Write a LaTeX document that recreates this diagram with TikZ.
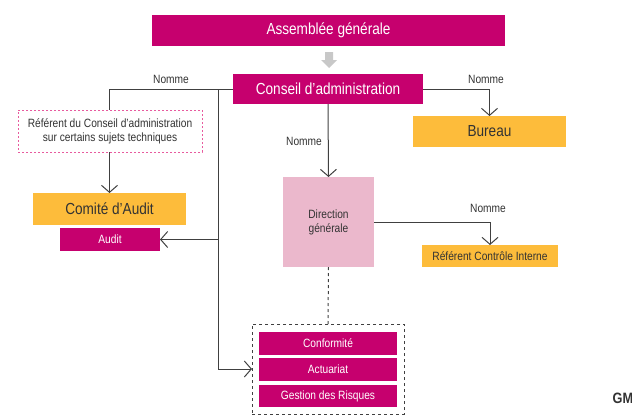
\documentclass[tikz,border=0pt]{standalone}
\usepackage{fontspec}
\setmainfont{Liberation Sans}[FakeStretch=0.85]
\usetikzlibrary{arrows.meta,backgrounds}
\definecolor{mag}{HTML}{C6006E}
\definecolor{orng}{HTML}{FDBC3B}
\definecolor{lpink}{HTML}{EBB8CC}
\definecolor{dpink}{HTML}{E85A9E}
\definecolor{ink}{HTML}{333333}
\definecolor{lnc}{HTML}{404040}
\definecolor{garr}{HTML}{C8C8C8}
\tikzset{
  box/.style={rectangle, inner sep=0pt, outer sep=0pt, align=center},
  magbox/.style={box, fill=mag, text=white},
  orbox/.style={box, fill=orng, text=ink},
  big/.style={font=\fontsize{16}{18}\selectfont},
  small/.style={font=\fontsize{12}{14}\selectfont},
  lbl/.style={small, text=ink, inner sep=0pt},
  conn/.style={draw=lnc, line width=1pt},
  arr/.style={conn, -{Straight Barb[length=7pt,width=16pt,line width=1pt]}},
  dline/.style={draw=lnc, line width=1pt, dash pattern=on 3pt off 3pt},
}
\begin{document}
\begin{tikzpicture}[x=1pt,y=-1pt]
\useasboundingbox (0,0) rectangle (632,415);
% nodes
\node[magbox, big, minimum width=353pt, minimum height=31pt] (ag) at (328.5,30.5) {Assemblée générale};
\node[magbox, big, minimum width=190pt, minimum height=30pt] (ca) at (328,89) {Conseil d’administration};
\node[orbox, big, minimum width=153pt, minimum height=31pt] (bur) at (489.5,131.5) {Bureau};
\node[box, small, fill=white, text=ink, draw=dpink, line width=1pt, dash pattern=on 2pt off 2pt, minimum width=184pt, minimum height=42pt] (ref) at (110,131) {Référent du Conseil d’administration\\sur certains sujets techniques};
\node[orbox, big, minimum width=153pt, minimum height=32pt] (cau) at (109.5,209) {Comité d’Audit};
\node[magbox, small, minimum width=100pt, minimum height=23pt] (aud) at (110,239.5) {Audit};
\node[box, small, fill=lpink, text=ink, minimum width=91pt, minimum height=90pt] (dg) at (328.5,222) {Direction\\générale};
\node[orbox, small, minimum width=136pt, minimum height=22pt] (rci) at (490,256) {Référent Contrôle Interne};
\node[box, draw=lnc, line width=1pt, dash pattern=on 3pt off 3pt, minimum width=152pt, minimum height=90pt] (grp) at (328,369) {};
\node[magbox, small, minimum width=138pt, minimum height=23pt] (conf) at (328,343.5) {Conformité};
\node[magbox, small, minimum width=138pt, minimum height=23pt] (act) at (328,369.5) {Actuariat};
\node[magbox, small, minimum width=138pt, minimum height=22pt] (gest) at (328,396) {Gestion des Risques};
% labels
\node[lbl] (n1) at (171,79) {Nomme};
\node[lbl] (n2) at (486,79) {Nomme};
\node[lbl] (n3) at (304,141) {Nomme};
\node[lbl] (n4) at (488,208) {Nomme};
\node[inner sep=0pt, anchor=west, text=ink, font=\fontsize{15}{17}\selectfont\bfseries] (gm) at (612.5,398.5) {GM};
% gray block arrow
\fill[garr] (325,52) -- (333,52) -- (333,60) -- (337,60) -- (329,68) -- (321,60) -- (325,60) -- cycle;
% connectors
\coordinate (t1) at (218,89);
\coordinate (t2) at (218,239.5);
\begin{scope}[on background layer]
\draw[arr] (ca.west) -| (cau.north);
\draw[arr] (t1) |- (grp.west);
\draw[arr] (t2) -- (aud.east);
\draw[arr] (ca.east) -| (bur.north);
\draw[arr] (ca.south) -- (dg.north);
\draw[arr] (dg.east) -| (rci.north);
\draw[dline] (dg.south) -- (grp.north);
\end{scope}
\end{tikzpicture}
\end{document}
